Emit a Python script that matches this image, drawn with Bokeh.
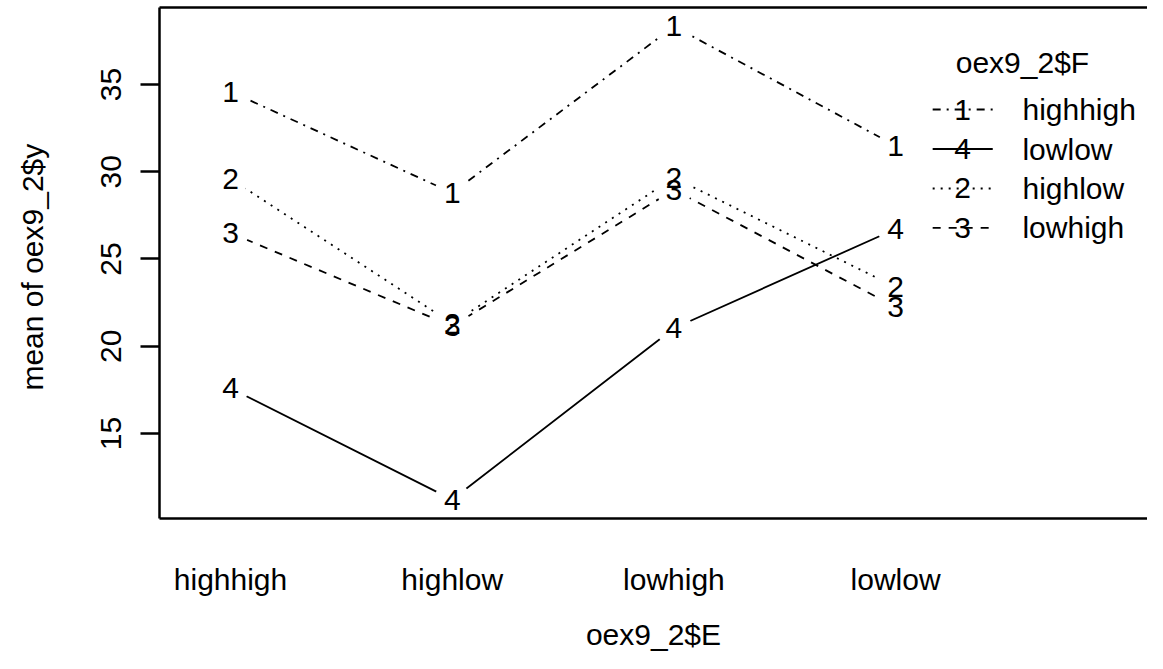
import numpy as np
from bokeh.plotting import figure
from bokeh.models import Range1d, FixedTicker, LinearAxis
from bokeh.core.properties import value
from bokeh.embed import file_html
from bokeh.resources import INLINE

# ---------------- data ----------------
E_levels = ["highhigh", "highlow", "lowhigh", "lowlow"]          # x factor
F_levels = ["highhigh", "highlow", "lowhigh", "lowlow"]          # trace factor
trace_labels = ["1", "2", "3", "4"]
mean_highhigh = [34.60, 28.79, 38.33, 31.49]
mean_highlow = [29.60, 21.30, 29.66, 23.39]
mean_lowhigh = [26.49, 21.15, 28.97, 22.24]
mean_lowlow = [17.59, 11.21, 21.03, 26.72]
y_ticks = [15, 20, 25, 30, 35]
x_title = "oex9_2$E"
y_title = "mean of  oex9_2$y"
legend_title = "oex9_2$F"

series = [mean_highhigh, mean_highlow, mean_lowhigh, mean_lowlow]

# ---------------- style / layout ----------------
FONT = "Liberation Sans"
FS = "30px"
W, H = 1147, 653
LW = 1.8
FRAME_LW = 2.5
DASHES = {1: "solid", 2: "8 8", 3: "2 6", 4: "8 6 2 6"}   # R lty 1..4

xpos = list(range(1, len(E_levels) + 1))
allv = np.concatenate([np.asarray(s) for s in series])
lo, hi = float(allv.min()), float(allv.max())
pad = 0.04 * (hi - lo)
X0, X1 = 0.6797, 5.136

p = figure(width=W, height=H, output_backend="svg", toolbar_location=None,
           x_range=Range1d(X0, X1), y_range=Range1d(lo - pad, hi + pad),
           min_border_left=159, min_border_right=0, min_border_top=7,
           min_border_bottom=135)
p.outline_line_color = None
p.grid.visible = False
p.background_fill_color = "white"
p.border_fill_color = "white"

# y axis
ya = p.yaxis[0]
ya.ticker = FixedTicker(ticks=y_ticks)
ya.axis_label = y_title
ya.major_label_orientation = "vertical"
ya.major_tick_out = 19
ya.major_tick_in = 0
ya.minor_tick_out = 0
ya.minor_tick_in = 0
ya.major_label_standoff = 19
ya.axis_label_standoff = 50

# x axis
xa = p.xaxis[0]
xa.ticker = FixedTicker(ticks=xpos)
xa.major_label_overrides = {i: lab for i, lab in zip(xpos, E_levels)}
xa.axis_label = x_title
xa.major_tick_out = 0
xa.major_tick_in = 0
xa.minor_tick_out = 0
xa.minor_tick_in = 0
xa.major_label_standoff = 44
xa.axis_label_standoff = 19

# top frame line
ta = LinearAxis(ticker=FixedTicker(ticks=[]), major_tick_out=0, major_tick_in=0,
                minor_tick_out=0, minor_tick_in=0, major_label_standoff=0,
                major_label_text_font_size="0px")
p.add_layout(ta, "above")

for ax in (xa, ya, ta):
    ax.axis_line_width = FRAME_LW
    ax.axis_line_color = "black"
    ax.major_tick_line_width = FRAME_LW
    ax.major_tick_line_color = "black"
for ax in (xa, ya):
    ax.major_label_text_font = FONT
    ax.major_label_text_font_size = FS
    ax.major_label_text_color = "black"
    ax.axis_label_text_font = FONT
    ax.axis_label_text_font_size = FS
    ax.axis_label_text_font_style = "normal"
    ax.axis_label_text_color = "black"

n = len(series)
ltys = [n - i for i in range(n)]

# lines
for s, lty in zip(series, ltys):
    p.line(xpos, s, line_color="black", line_width=LW, line_dash=DASHES[lty])
# gaps around the point labels (type = "b")
for s in series:
    p.scatter(xpos, s, size=36, fill_color="white", line_color=None)
# point labels
for s, lab in zip(series, trace_labels):
    p.text(xpos, s, text=[lab] * len(xpos), text_align="center",
           text_baseline="middle", text_font=value(FONT),
           text_font_size=FS, text_color="black")

# legend (ordered by the value at the last x level, as R does)
LEG_TITLE_Y = 36.26
LEG_Y0 = 33.567
LEG_DY = 2.263
LEG_LINE_X0, LEG_LINE_X1 = 4.167, 4.438
LEG_NUM_X = 4.302
LEG_LAB_X = 4.572
order = sorted(range(n), key=lambda i: -series[i][-1])
p.text([LEG_LAB_X], [LEG_TITLE_Y], text=[legend_title], text_align="center",
       text_baseline="middle", text_font=value(FONT), text_font_size=FS,
       text_color="black")
for r, i in enumerate(order):
    yy = LEG_Y0 - r * LEG_DY
    p.line([LEG_LINE_X0, LEG_LINE_X1], [yy, yy], line_color="black",
           line_width=LW, line_dash=DASHES[ltys[i]])
    p.text([LEG_NUM_X], [yy], text=[trace_labels[i]], text_align="center",
           text_baseline="middle", text_font=value(FONT), text_font_size=FS,
           text_color="black")
    p.text([LEG_LAB_X], [yy], text=[F_levels[i]], text_align="left",
           text_baseline="middle", text_font=value(FONT), text_font_size=FS,
           text_color="black")

open("out.html", "w").write(file_html(p, INLINE))
